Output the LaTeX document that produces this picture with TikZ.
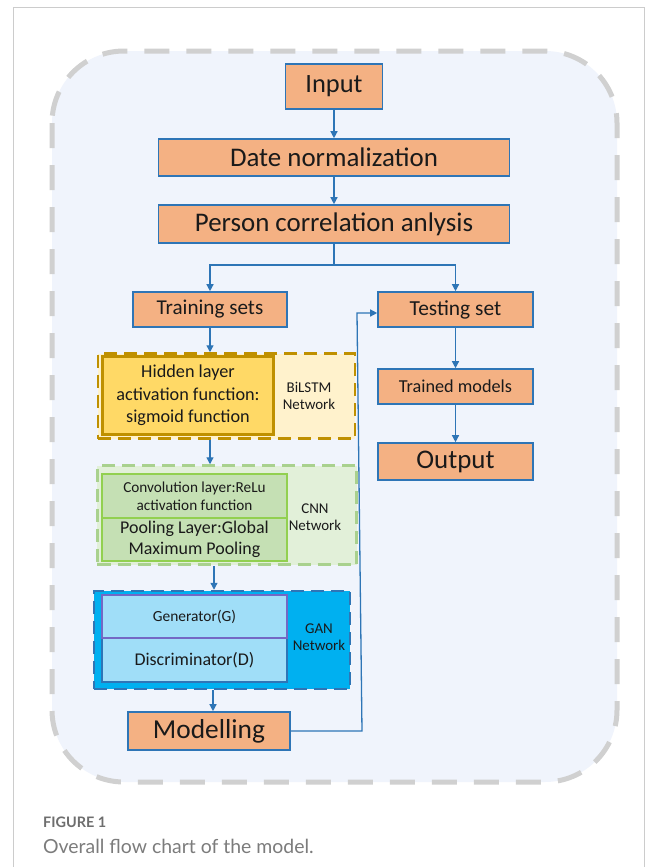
\documentclass[tikz,border=0pt]{standalone}
\usepackage{fontspec}
\setmainfont{Carlito}
\newfontfamily\capfont{Lato}
\usetikzlibrary{arrows.meta,calc}
\definecolor{bgblue}{HTML}{F0F4FC}
\definecolor{dashgray}{HTML}{D0D0D0}
\definecolor{framegray}{HTML}{CCCCCC}
\definecolor{orangefill}{HTML}{F4B183}
\definecolor{boxblue}{HTML}{2E75B6}
\definecolor{goldline}{HTML}{BF9000}
\definecolor{goldlight}{HTML}{FFF2CC}
\definecolor{golddark}{HTML}{FFD966}
\definecolor{greenline}{HTML}{A9D18E}
\definecolor{greenlight}{HTML}{E2F0D9}
\definecolor{greeninner}{HTML}{C5E0B4}
\definecolor{greenbright}{HTML}{92D050}
\definecolor{ganfill}{HTML}{00B0F0}
\definecolor{ganinner}{HTML}{A0DEF8}
\definecolor{purpleline}{HTML}{7468C4}
\definecolor{capgray}{HTML}{6E6E6E}
\definecolor{caplight}{HTML}{7C7C7C}
\definecolor{txt}{HTML}{1A1A1A}
\newcommand{\fs}[2]{\fontsize{#1}{#2}\selectfont}
\tikzset{
  obox/.style={draw=boxblue, fill=orangefill, line width=1.6bp, inner sep=0pt, text=txt},
  conn/.style={draw=boxblue, line width=1.3bp},
  arr/.style={conn, -{Triangle[length=7bp,width=7bp]}},
  dbox/.style={line width=2.5bp, dash pattern=on 13bp off 7bp, inner sep=0pt},
  ibox/.style={line width=2.2bp, inner sep=0pt, align=center, text=txt},
  lbl/.style={align=center, text=txt, inner sep=0pt},
}
\begin{document}
\begin{tikzpicture}[x=1bp,y=-1bp]
\useasboundingbox (0,0) rectangle (656,867);
\fill[white] (0,0) rectangle (656,867);
\draw[framegray, line width=1bp] (13,867) -- (13,7) -- (644,7) -- (644,867);
\draw[dashgray, fill=bgblue, line width=5bp, dash pattern=on 25bp off 17bp, rounded corners=72bp] (52,51) rectangle (617,782);

% main boxes
\node[obox, minimum width=97bp, minimum height=45bp, font=\fs{26.5}{30}] (input) at (334,86.5) {Input};
\node[obox, minimum width=351bp, minimum height=37bp, font=\fs{27}{31}] (norm) at (334,157.5) {Date normalization};
\node[obox, minimum width=351bp, minimum height=38bp, font=\fs{27}{31}] (pers) at (334,224) {Person correlation anlysis};
\node[obox, minimum width=154bp, minimum height=35bp, font=\fs{21.2}{25}] (train) at (210,309.5) {Training sets};
\node[obox, minimum width=155bp, minimum height=35bp, font=\fs{21.5}{25}] (test) at (455.5,309.5) {Testing set};
\node[obox, minimum width=155bp, minimum height=35bp, font=\fs{18.3}{22}] (trained) at (455.5,386.5) {Trained models};
\node[obox, minimum width=155bp, minimum height=37bp, font=\fs{27}{31}] (out) at (455.5,461.5) {Output};
\node[obox, minimum width=162bp, minimum height=38bp, font=\fs{27.5}{31}] (model) at (209,731) {Modelling};

% BiLSTM
\node[dbox, draw=goldline, fill=goldlight, minimum width=257bp, minimum height=85bp] (bil) at (226.5,396) {};
\node[ibox, draw=goldline, fill=golddark, minimum width=171bp, minimum height=78bp, font=\fs{18.3}{22.5}] (hid) at (188,395.5) {Hidden layer\\activation function:\\sigmoid function};
\node[lbl, font=\fs{15}{17}] (biltxt) at (309,396) {BiLSTM\\Network};

% CNN
\node[dbox, draw=greenline, fill=greenlight, minimum width=259bp, minimum height=99bp] (cnn) at (227,515) {};
\node[ibox, draw=greenbright, fill=greeninner, minimum width=185bp, minimum height=44bp, font=\fs{15.3}{18}] (conv) at (194.5,496) {Convolution layer:ReLu\\activation function};
\node[ibox, draw=greenbright, fill=greeninner, minimum width=185bp, minimum height=43bp, font=\fs{18}{20.5}] (pool) at (194.5,539.5) {Pooling Layer:Global\\Maximum Pooling};
\node[lbl, font=\fs{15}{17}] (cnntxt) at (315,517) {CNN\\Network};

% GAN
\node[dbox, draw=boxblue, fill=ganfill, minimum width=256bp, minimum height=98bp] (gan) at (222,640) {};
\node[ibox, draw=boxblue, fill=ganinner, minimum width=185bp, minimum height=44bp, font=\fs{18}{21}] (disc) at (194.5,660) {Discriminator(D)};
\node[ibox, draw=purpleline, fill=ganinner, minimum width=185bp, minimum height=43bp, font=\fs{15.5}{18}] (gen) at (194.5,616.5) {Generator(G)};
\node[lbl, font=\fs{15}{17}] (gantxt) at (319,637) {GAN\\Network};

% connectors
\coordinate (split) at (334,265);
\coordinate (xa) at (210,0);
\coordinate (xb) at (214,0);
\coordinate (xc) at (213,0);
\draw[arr] (input) -- (norm);
\draw[arr] (norm) -- (pers);
\draw[conn] (pers.south) -- (split);
\draw[arr] (split) -| (train.north);
\draw[arr] (split) -| (test.north);
\draw[arr] (test) -- (trained);
\draw[arr] (trained) -- (out);
\draw[arr] (train.south) -- (train.south |- bil.north);
\draw[arr] (bil.south -| xa) -- (cnn.north -| xa);
\draw[arr] (cnn.south -| xb) -- (gan.north -| xb);
\draw[arr] (gan.south -| xc) -- (model.north -| xc);
\coordinate (c1) at (362,731);
\coordinate (c2) at (357,313);
\draw[arr] (model.east) -- (c1) -- (c2) -- (c2 -| test.west);

% caption
\node[anchor=west, inner sep=0pt, text=capgray, font=\capfont\bfseries\fs{14.5}{17}] (fig) at (43,822) {FIGURE 1};
\node[anchor=west, inner sep=0pt, text=caplight, font=\capfont\fs{19.5}{23}] (cap) at (43,846) {Overall flow chart of the model.};
\end{tikzpicture}
\end{document}
